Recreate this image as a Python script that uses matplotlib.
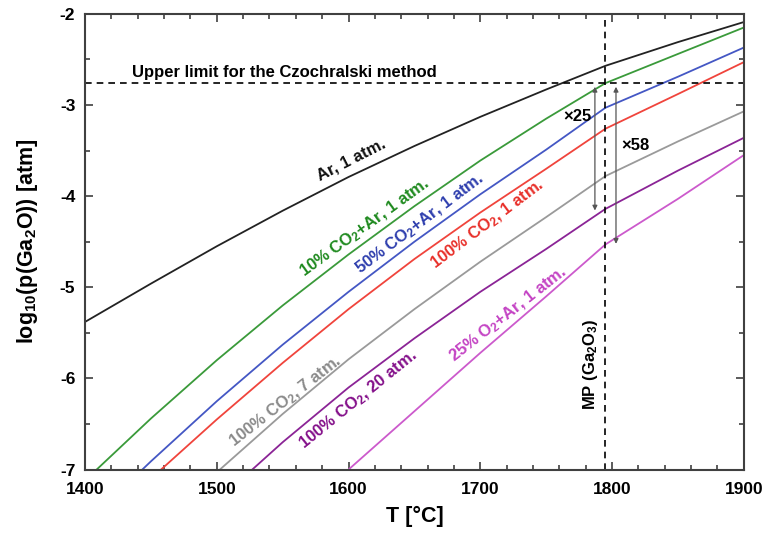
import numpy as np
import matplotlib
matplotlib.use("Agg")
import matplotlib.pyplot as plt
from matplotlib.ticker import MultipleLocator

plt.rcParams['font.family'] = ['Liberation Sans', 'DejaVu Sans']
plt.rcParams['font.weight'] = 'bold'
plt.rcParams['axes.labelweight'] = 'bold'
plt.rcParams['axes.unicode_minus'] = False
plt.rcParams['mathtext.fontset'] = 'custom'
plt.rcParams['mathtext.rm'] = 'Liberation Sans:bold'
plt.rcParams['mathtext.it'] = 'Liberation Sans:bold'
plt.rcParams['mathtext.bf'] = 'Liberation Sans:bold'
plt.rcParams['mathtext.default'] = 'rm'

# temperatura (°C) y log10 de la presion de Ga2O
T = np.array([1400, 1450, 1500, 1550, 1600, 1650, 1700, 1750, 1795, 1850, 1900])
ar_1 = np.array([-5.38, -4.96, -4.55, -4.16, -3.79, -3.45, -3.13, -2.83, -2.57, -2.31, -2.09])
co2_10 = np.array([-7.12, -6.44, -5.80, -5.20, -4.64, -4.11, -3.61, -3.15, -2.76, -2.44, -2.15])
co2_50 = np.array([-7.60, -6.91, -6.25, -5.63, -5.05, -4.50, -3.98, -3.49, -3.03, -2.69, -2.37])
co2_100 = np.array([-7.80, -7.10, -6.45, -5.83, -5.24, -4.69, -4.18, -3.70, -3.26, -2.88, -2.53])
co2_7atm = np.array([-8.40, -7.70, -7.03, -6.39, -5.79, -5.24, -4.72, -4.23, -3.78, -3.40, -3.07])
co2_20atm = np.array([-8.70, -8.00, -7.35, -6.70, -6.10, -5.56, -5.05, -4.58, -4.14, -3.72, -3.36])
o2_25 = np.array([-9.55, -8.90, -8.27, -7.64, -7.00, -6.36, -5.72, -5.10, -4.53, -4.03, -3.55])

T_mp = 1795          # punto de fusion Ga2O3
lim_cz = -2.76       # limite superior Czochralski
f25, f58 = 25, 58

curvas = [
    (ar_1, '#222222', '#111111', "Ar, 1 atm.", 1602, -3.60, 27),
    (co2_10, '#3a9a3a', '#1f8a1f', r"10% CO$_2$+Ar, 1 atm.", 1612, -4.34, 36),
    (co2_50, '#4457c4', '#2f3fae', r"50% CO$_2$+Ar, 1 atm.", 1654, -4.30, 37),
    (co2_100, '#f0443c', '#e8302a', r"100% CO$_2$, 1 atm.", 1705, -4.31, 37),
    (co2_7atm, '#9a9a9a', '#8a8a8a', r"100% CO$_2$, 7 atm.", 1552, -6.25, 38),
    (co2_20atm, '#8b2496', '#84108a', r"100% CO$_2$, 20 atm.", 1607, -6.23, 39),
    (o2_25, '#cc5acc', '#c444c4', r"25% O$_2$+Ar, 1 atm.", 1721, -5.30, 38),
]

fig = plt.figure(figsize=(7.66, 5.33), dpi=100)
ax = fig.add_axes([0.111, 0.119, 0.86, 0.855])

for y, c, ct, lab, tx, ty, rot in curvas:
    ax.plot(T, y, color=c, lw=1.3)
    ax.text(tx, ty, lab, color=ct, fontsize=12, rotation=rot,
            ha='center', va='center', rotation_mode='anchor')

ax.axhline(lim_cz, color='k', ls=(0, (4, 3)), lw=1.2)
ax.axvline(T_mp, color='k', ls=(0, (4, 3)), lw=1.2)

ax.text(1436, -2.69, "Upper limit for the Czochralski method", fontsize=12,
        ha='left', va='baseline')
ax.text(1784, -5.85, r"MP (Ga$_2$O$_3$)", fontsize=12, rotation=90,
        ha='center', va='center')

# flechas entre el limite y las curvas en el punto de fusion
flecha = dict(arrowstyle='<|-|>', color='#555555', lw=0.9,
              mutation_scale=7, shrinkA=0, shrinkB=0)
ax.annotate("", xy=(1787, lim_cz - np.log10(f25)), xytext=(1787, lim_cz - 0.04),
            arrowprops=flecha)
ax.annotate("", xy=(1803, lim_cz - np.log10(f58)), xytext=(1803, lim_cz - 0.04),
            arrowprops=flecha)
ax.text(1774, -3.13, "\u00d7" + str(f25), fontsize=12, ha='center', va='center')
ax.text(1818, -3.44, "\u00d7" + str(f58), fontsize=12, ha='center', va='center')

ax.set_xlim(1400, 1900)
ax.set_ylim(-7, -2)
ax.xaxis.set_major_locator(MultipleLocator(100))
ax.xaxis.set_minor_locator(MultipleLocator(20))
ax.yaxis.set_major_locator(MultipleLocator(1))
ax.yaxis.set_minor_locator(MultipleLocator(0.5))
ax.tick_params(which='both', direction='in', top=True, right=True,
               color='#404040', width=1.2, labelsize=12.5)
ax.tick_params(which='major', length=6)
ax.tick_params(which='minor', length=3.5)
ax.tick_params(axis='x', which='major', pad=9)
ax.tick_params(axis='y', which='major', pad=7)
for s in ax.spines.values():
    s.set_linewidth(1.5)
    s.set_color('#404040')

ax.set_xlabel("T [°C]", fontsize=15.5, labelpad=6)
ax.set_ylabel(r"log$_{10}$(p(Ga$_2$O)) [atm]", fontsize=15.5, labelpad=14)

fig.savefig("out.png", dpi=100)
